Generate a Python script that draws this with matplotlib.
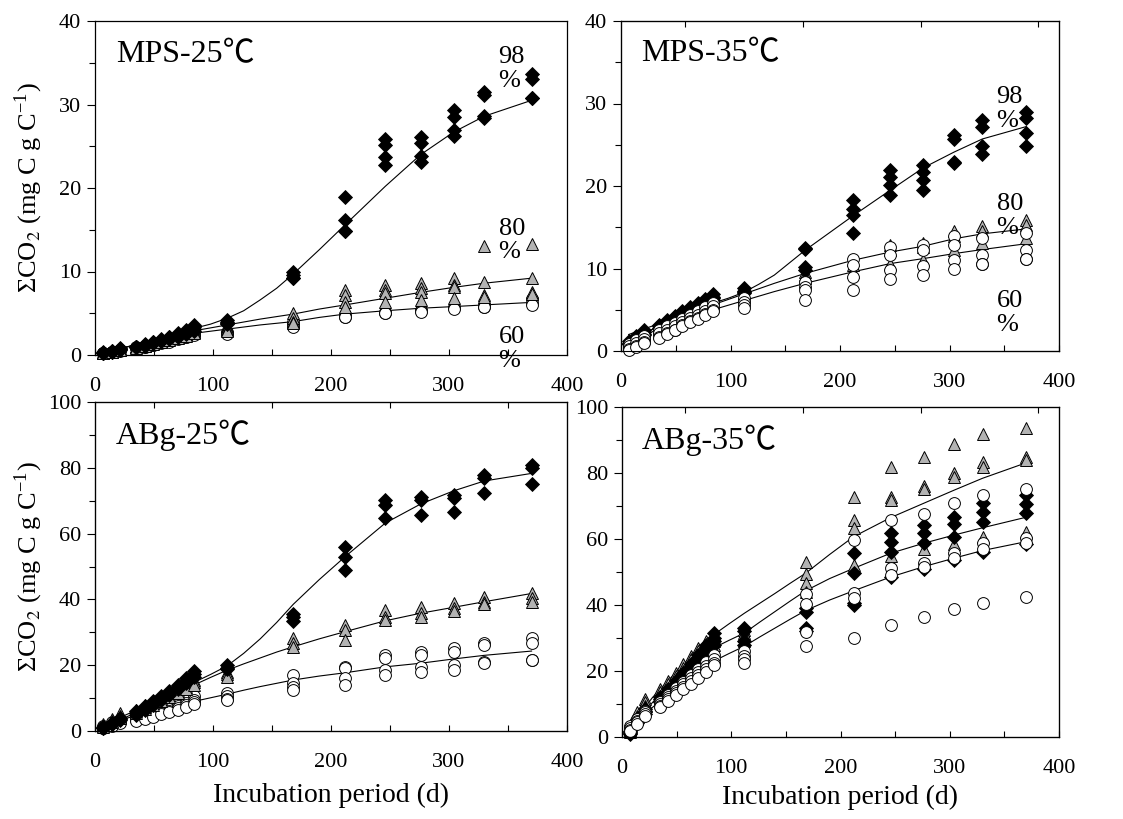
import numpy as np
import matplotlib
matplotlib.use('Agg')
import matplotlib.pyplot as plt
from matplotlib.ticker import MultipleLocator

plt.rcParams['font.family'] = ['Liberation Serif', 'Noto Sans CJK SC', 'DejaVu Serif']
plt.rcParams['mathtext.fontset'] = 'stix'

# sampling days (d)
days = [7, 14, 21, 35, 42, 49, 56, 63, 70, 77, 84, 112, 168, 212, 246, 276, 304, 330, 370]
fit_days = [7, 28, 56, 84, 98, 112, 126, 140, 154, 168, 190, 212, 246, 276, 304, 330, 370]

# ---- MPS 25C ----
mps25_98 = [
    [0.3, 0.5, 0.8, 1.0, 1.3, 1.6, 1.9, 2.2, 2.6, 3.0, 3.6, 4.2, 10.0, 18.9, 25.9, 26.1, 29.3, 31.5, 33.7],
    [0.2, 0.5, 0.7, 1.0, 1.2, 1.5, 1.8, 2.1, 2.4, 2.8, 3.3, 3.9, 9.6, 16.2, 25.1, 25.4, 28.5, 31.1, 33.1],
    [0.2, 0.4, 0.7, 0.9, 1.2, 1.4, 1.7, 2.0, 2.3, 2.6, 3.1, 3.8, 9.2, 14.8, 23.7, 23.8, 27.0, 28.6, 30.8],
    [0.2, 0.4, 0.6, 0.9, 1.1, 1.4, 1.7, 1.9, 2.2, 2.5, 2.9, 3.7, 9.2, 14.8, 22.8, 23.1, 26.2, 28.4, 30.8],
]
mps25_80 = [
    [0.3, 0.5, 0.7, 1.0, 1.3, 1.5, 1.8, 2.1, 2.4, 2.7, 3.0, 3.4, 5.0, 7.8, 8.4, 8.6, 9.2, 13.0, 13.3],
    [0.2, 0.4, 0.7, 0.9, 1.2, 1.4, 1.7, 2.0, 2.3, 2.5, 2.8, 3.2, 4.4, 7.2, 7.8, 8.0, 8.4, 8.8, 9.2],
    [0.2, 0.4, 0.6, 0.9, 1.1, 1.4, 1.6, 1.9, 2.1, 2.4, 2.7, 3.0, 4.0, 6.4, 7.4, 7.6, 8.1, 7.2, 7.5],
    [0.2, 0.4, 0.6, 0.8, 1.1, 1.3, 1.5, 1.8, 2.0, 2.3, 2.6, 2.9, 3.8, 5.7, 6.3, 6.6, 6.8, 7.0, 7.3],
]
mps25_60 = [
    [0.2, 0.4, 0.6, 0.9, 1.1, 1.3, 1.6, 1.8, 2.1, 2.4, 2.6, 2.8, 4.0, 4.8, 5.2, 5.4, 5.8, 6.0, 6.7],
    [0.2, 0.4, 0.6, 0.8, 1.0, 1.2, 1.5, 1.7, 2.0, 2.2, 2.5, 2.6, 3.6, 4.6, 5.0, 5.3, 5.6, 5.8, 6.2],
    [0.2, 0.3, 0.5, 0.8, 1.0, 1.2, 1.4, 1.6, 1.9, 2.1, 2.4, 2.5, 3.4, 4.5, 5.0, 5.2, 5.5, 5.7, 6.0],
]
mps25_fit98 = [0.3, 1.0, 2.0, 3.2, 3.7, 4.4, 5.3, 6.6, 8.0, 9.7, 12.6, 15.6, 20.2, 24.0, 26.7, 28.6, 30.5]
mps25_fit80 = [0.3, 1.0, 2.0, 2.9, 3.25, 3.6, 3.95, 4.3, 4.6, 4.9, 5.5, 6.0, 6.8, 7.5, 8.1, 8.6, 9.2]
mps25_fit60 = [0.3, 1.0, 1.9, 2.6, 2.85, 3.1, 3.35, 3.6, 3.8, 4.0, 4.5, 4.9, 5.3, 5.6, 5.8, 6.0, 6.3]

# ---- MPS 35C ----
mps35_98 = [
    [1.2, 1.8, 2.5, 3.2, 3.7, 4.3, 4.8, 5.3, 5.8, 6.3, 6.9, 7.6, 12.5, 18.3, 21.9, 22.5, 26.2, 28.0, 29.0],
    [1.0, 1.6, 2.3, 3.0, 3.5, 4.1, 4.6, 5.1, 5.6, 6.1, 6.6, 7.3, 12.4, 17.2, 21.1, 21.7, 25.7, 27.1, 28.2],
    [0.9, 1.5, 2.1, 2.8, 3.3, 3.9, 4.4, 4.9, 5.4, 5.9, 6.4, 7.2, 10.2, 16.5, 20.1, 20.7, 22.8, 24.8, 26.4],
    [0.8, 1.4, 2.0, 2.7, 3.2, 3.7, 4.2, 4.7, 5.2, 5.7, 6.2, 7.0, 9.8, 14.3, 18.9, 19.5, 22.9, 23.9, 24.8],
]
mps35_80 = [
    [1.1, 1.7, 2.4, 3.1, 3.6, 4.1, 4.6, 5.1, 5.6, 6.1, 6.6, 7.0, 9.6, 11.0, 12.8, 13.1, 14.6, 15.1, 15.9],
    [1.0, 1.5, 2.2, 2.9, 3.4, 3.9, 4.4, 4.9, 5.4, 5.9, 6.3, 6.8, 9.2, 10.4, 12.2, 12.6, 14.0, 14.6, 15.3],
    [0.9, 1.4, 2.0, 2.7, 3.2, 3.7, 4.2, 4.6, 5.1, 5.6, 6.0, 6.5, 8.8, 9.6, 10.6, 11.0, 12.3, 13.1, 13.7],
]
mps35_60 = [
    [0.8, 1.3, 1.8, 2.6, 3.0, 3.4, 3.9, 4.4, 4.9, 5.3, 5.8, 6.4, 8.4, 11.2, 12.6, 12.8, 13.9, 13.7, 14.3],
    [0.6, 1.0, 1.5, 2.2, 2.6, 3.0, 3.5, 4.0, 4.4, 4.9, 5.4, 6.0, 7.8, 10.4, 11.6, 12.2, 12.8, 11.6, 12.2],
    [0.2, 0.6, 1.1, 1.7, 2.2, 2.6, 3.1, 3.6, 4.0, 4.5, 5.0, 5.6, 7.4, 9.0, 9.8, 10.3, 11.0, 10.5, 11.1],
    [0.1, 0.5, 1.0, 1.6, 2.1, 2.5, 3.0, 3.5, 3.9, 4.4, 4.8, 5.2, 6.2, 7.4, 8.7, 9.2, 9.9, 10.5, 11.1],
]
mps35_fit98 = [2.0, 3.0, 4.4, 5.8, 6.4, 7.1, 8.1, 9.2, 10.7, 12.2, 14.3, 16.4, 19.5, 22.2, 24.1, 25.7, 27.2]
mps35_fit80 = [0.9, 2.6, 4.2, 5.6, 6.25, 6.9, 7.55, 8.2, 8.8, 9.4, 10.2, 11.0, 12.0, 12.7, 13.6, 14.2, 14.8]
mps35_fit60 = [0.7, 2.3, 3.8, 5.0, 5.55, 6.1, 6.65, 7.2, 7.7, 8.2, 8.9, 9.6, 10.6, 11.2, 11.8, 12.3, 13.0]

# ---- ABg 25C ----
abg25_98 = [
    [1.2, 2.5, 4.0, 6.0, 7.5, 9.0, 10.5, 12.2, 14.0, 16.0, 18.2, 20.0, 35.5, 56.0, 70.2, 71.2, 71.7, 77.8, 80.9],
    [1.0, 2.2, 3.6, 5.5, 7.0, 8.5, 10.0, 11.6, 13.4, 15.3, 17.3, 19.2, 34.5, 53.0, 68.7, 70.2, 70.7, 76.8, 79.8],
    [0.8, 2.0, 3.2, 5.0, 6.5, 8.0, 9.5, 11.0, 12.7, 14.6, 16.5, 18.8, 33.5, 48.9, 64.6, 65.7, 66.7, 72.4, 75.1],
]
abg25_80 = [
    [2.0, 3.5, 5.4, 6.5, 7.8, 9.0, 10.3, 11.6, 12.9, 14.2, 15.6, 18.0, 28.2, 32.2, 36.8, 37.8, 38.8, 40.8, 42.0],
    [1.6, 3.0, 4.6, 6.0, 7.2, 8.4, 9.7, 11.0, 12.2, 13.5, 14.8, 17.2, 26.6, 30.7, 34.7, 35.8, 37.3, 39.3, 40.3],
    [1.3, 2.6, 4.0, 5.5, 6.7, 7.9, 9.1, 10.3, 11.5, 12.8, 14.0, 16.5, 25.5, 27.7, 33.7, 34.7, 36.6, 38.6, 39.3],
]
abg25_60 = [
    [1.5, 2.6, 3.4, 4.2, 5.0, 5.8, 6.6, 7.4, 8.3, 9.3, 10.5, 11.5, 17.0, 19.5, 23.1, 24.1, 25.1, 26.6, 28.2],
    [1.2, 2.2, 3.0, 3.8, 4.5, 5.3, 6.0, 6.8, 7.6, 8.5, 9.5, 10.5, 14.5, 19.0, 22.1, 23.1, 24.1, 26.1, 26.6],
    [1.0, 1.9, 2.6, 3.4, 4.1, 4.8, 5.5, 6.2, 7.0, 7.8, 8.8, 9.8, 13.5, 16.0, 18.5, 19.5, 20.1, 21.1, 21.6],
    [0.8, 1.6, 2.3, 3.0, 3.7, 4.4, 5.1, 5.8, 6.5, 7.2, 8.2, 9.5, 12.5, 14.0, 17.0, 18.0, 18.5, 20.6, 21.6],
]
abg25_fit98 = [1.2, 4.5, 9.5, 14.8, 17.2, 19.8, 23.6, 28.0, 33.0, 38.5, 46.0, 53.0, 63.2, 69.0, 73.0, 76.0, 78.3]
abg25_fit80 = [1.8, 5.2, 9.5, 14.0, 16.3, 18.5, 20.4, 22.2, 24.0, 25.6, 28.0, 30.2, 33.5, 35.8, 37.6, 39.3, 41.8]
abg25_fit60 = [2.0, 4.0, 6.5, 9.0, 10.1, 11.2, 12.4, 13.5, 14.5, 15.5, 16.7, 17.7, 19.5, 20.6, 21.9, 23.0, 24.3]

# ---- ABg 35C ----
abg35_98 = [
    [1.8, 5.5, 8.5, 12.0, 14.5, 17.0, 19.5, 22.0, 25.0, 28.0, 31.5, 33.0, 39.0, 55.7, 61.7, 64.2, 66.8, 70.8, 73.3],
    [1.5, 5.0, 8.0, 11.5, 14.0, 16.5, 19.0, 21.5, 24.0, 27.0, 30.0, 32.0, 38.0, 49.8, 59.2, 61.7, 64.5, 68.3, 70.6],
    [1.2, 4.5, 7.5, 11.0, 13.5, 16.0, 18.5, 21.0, 23.5, 26.0, 29.0, 29.0, 32.9, 40.5, 56.2, 58.7, 60.7, 65.2, 67.8],
    [1.0, 4.2, 7.0, 10.5, 13.0, 15.5, 18.0, 20.0, 22.5, 25.0, 28.0, 28.0, 32.0, 40.0, 48.5, 50.8, 53.6, 56.0, 58.5],
]
abg35_80 = [
    [2.5, 7.5, 11.5, 14.5, 17.0, 19.5, 22.0, 24.5, 27.0, 29.0, 31.0, 32.5, 53.1, 72.8, 81.9, 84.9, 88.7, 91.7, 93.5],
    [2.0, 6.5, 10.5, 13.5, 16.0, 18.5, 21.0, 23.5, 26.0, 28.0, 30.0, 31.5, 49.4, 65.8, 72.6, 76.1, 79.9, 83.4, 84.8],
    [1.8, 6.0, 9.5, 12.5, 15.0, 17.5, 20.0, 22.5, 25.0, 27.0, 29.0, 30.5, 46.6, 63.2, 71.8, 75.1, 78.7, 81.7, 83.9],
    [1.5, 5.5, 9.0, 12.0, 14.0, 16.5, 19.0, 21.5, 24.0, 26.0, 28.0, 29.0, 44.0, 52.0, 55.0, 57.0, 58.5, 60.7, 62.2],
]
abg35_60 = [
    [3.2, 5.5, 8.0, 10.5, 12.8, 14.8, 16.8, 18.7, 20.6, 22.7, 25.0, 26.0, 43.2, 59.7, 65.8, 67.6, 70.8, 73.3, 75.1],
    [2.8, 5.0, 7.5, 10.0, 12.0, 14.0, 16.0, 18.0, 19.8, 21.5, 23.5, 24.5, 40.3, 43.5, 51.1, 52.8, 55.7, 58.7, 60.2],
    [2.2, 4.5, 7.0, 9.5, 11.5, 13.3, 15.2, 17.0, 18.8, 20.5, 22.5, 23.5, 31.9, 42.0, 49.1, 51.4, 54.1, 56.9, 58.7],
    [1.8, 4.0, 6.5, 9.0, 11.0, 12.8, 14.5, 16.2, 18.0, 19.8, 21.8, 22.5, 27.7, 29.9, 33.9, 36.3, 38.7, 40.5, 42.3],
]
abg35_fit80 = [3.0, 12.0, 22.0, 31.0, 34.3, 37.5, 40.5, 43.5, 46.6, 49.6, 55.3, 60.7, 66.5, 70.8, 74.8, 78.4, 83.1]
abg35_fit98 = [2.5, 10.5, 19.5, 27.0, 29.3, 31.5, 34.8, 38.0, 41.2, 44.3, 48.0, 51.1, 55.7, 58.7, 61.2, 63.4, 66.6]
abg35_fit60 = [2.0, 9.0, 16.5, 23.0, 25.3, 27.5, 30.3, 33.0, 35.7, 38.3, 41.5, 44.3, 48.5, 51.6, 54.2, 56.5, 59.2]

styles = {
    '98': dict(marker='D', ms=7, mfc='black', mec='black', mew=0.6),
    '80': dict(marker='^', ms=8.5, mfc='#b3b3b3', mec='black', mew=0.7),
    '60': dict(marker='o', ms=8.5, mfc='white', mec='black', mew=0.7),
}

W, H = 1123, 819
fig = plt.figure(figsize=(W / 100, H / 100), dpi=100)

def px_rect(l, t, r, b):
    return [l / W, 1 - b / H, (r - l) / W, (b - t) / H]

panels = [
    dict(rect=px_rect(95, 21, 567, 355), title='MPS-25℃', ymax=40, major=10, minor=5,
         data={'60': mps25_60, '80': mps25_80, '98': mps25_98},
         fits=[mps25_fit98, mps25_fit80, mps25_fit60],
         order=['60', '80', '98'], ylabel=True, xlabel=None, top=[],
         notes=[(342, 34.25, '98'), (342, 13.7, '80'), (342, 0.7, '60')]),
    dict(rect=px_rect(621, 21, 1059, 351), title='MPS-35℃', ymax=40, major=10, minor=5,
         data={'80': mps35_80, '98': mps35_98, '60': mps35_60},
         fits=[mps35_fit98, mps35_fit80, mps35_fit60],
         order=['80', '98', '60'], ylabel=False, xlabel=None, top=[58, 166, 274, 381],
         notes=[(343, 29.3, '98'), (343, 16.4, '80'), (343, 4.6, '60')]),
    dict(rect=px_rect(95, 402, 567, 731), title='ABg-25℃', ymax=100, major=20, minor=10,
         data={'60': abg25_60, '80': abg25_80, '98': abg25_98},
         fits=[abg25_fit98, abg25_fit80, abg25_fit60],
         order=['60', '80', '98'], ylabel=True, xlabel=-0.159, top=[50, 150, 250, 350],
         notes=[]),
    dict(rect=px_rect(622, 407, 1059, 737), title='ABg-35℃', ymax=100, major=20, minor=10,
         data={'80': abg35_80, '98': abg35_98, '60': abg35_60},
         fits=[abg35_fit80, abg35_fit98, abg35_fit60],
         order=['80', '98', '60'], ylabel=False, xlabel=-0.144, top=[58, 166, 274, 381],
         notes=[]),
]

for p in panels:
    ax = fig.add_axes(p['rect'])
    for f in p['fits']:
        ax.plot(fit_days, f, color='black', lw=0.8, zorder=2)
    z = 3
    for key in p['order']:
        for rep in p['data'][key]:
            ax.plot(days, rep, ls='none', zorder=z, clip_on=False, **styles[key])
        z += 1

    ax.set_xlim(0, 400)
    ax.set_ylim(0, p['ymax'])
    ax.xaxis.set_major_locator(MultipleLocator(100))
    ax.xaxis.set_minor_locator(MultipleLocator(50))
    ax.yaxis.set_major_locator(MultipleLocator(p['major']))
    ax.yaxis.set_minor_locator(MultipleLocator(p['minor']))
    ax.tick_params(axis='x', which='both', direction='in', length=4, width=0.8,
                   labelsize=16, pad=16, top=False)
    ax.tick_params(axis='y', which='both', direction='out', width=0.8,
                   labelsize=16, pad=4, right=False)
    ax.tick_params(axis='y', which='major', length=6)
    ax.tick_params(axis='y', which='minor', length=4)
    for s in ax.spines.values():
        s.set_linewidth(0.9)

    # short inward ticks along the top frame
    if p['top']:
        ax2 = ax.twiny()
        ax2.set_xlim(0, 400)
        ax2.set_xticks(p['top'])
        ax2.tick_params(axis='x', direction='in', length=4, width=0.8, labeltop=False)

    ax.text(0.045, 0.90, p['title'], transform=ax.transAxes, fontsize=23,
            ha='left', va='center')
    for x, y, t in p['notes']:
        ax.text(x, y, t + '\n%', fontsize=19, ha='left', va='center', linespacing=1.1)

    if p['ylabel']:
        ax.set_ylabel('ΣCO$_2$ (mg C g C$^{\\mathregular{-1}}$)', fontsize=19)
        ax.yaxis.set_label_coords(-0.105, 0.5)
    if p['xlabel'] is not None:
        ax.set_xlabel('Incubation period (d)', fontsize=20)
        ax.xaxis.set_label_coords(0.5, p['xlabel'])

fig.savefig('out.png', dpi=100)
